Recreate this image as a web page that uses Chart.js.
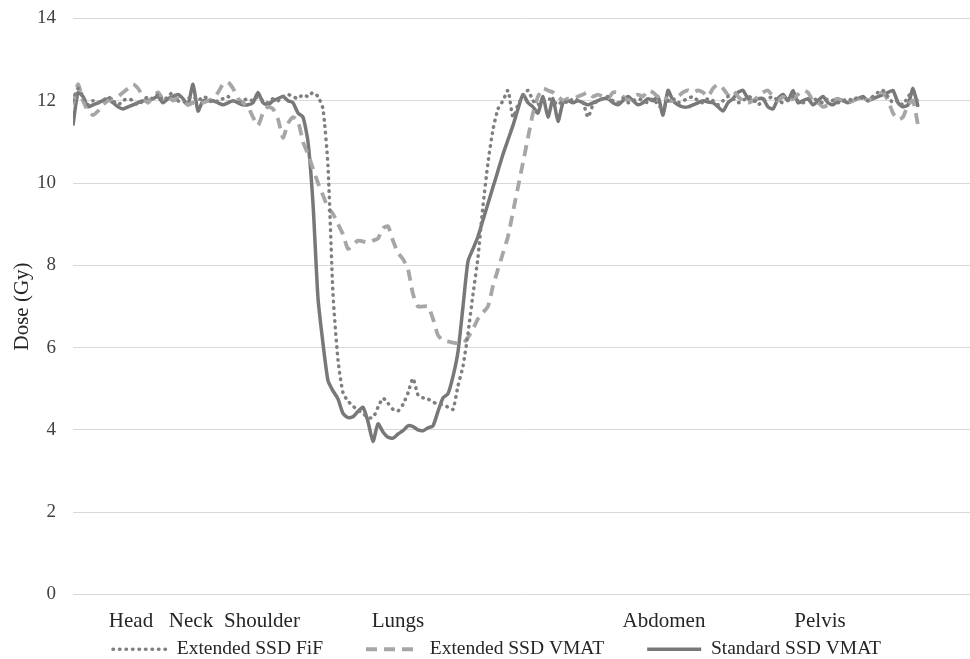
<!DOCTYPE html>
<html>
<head>
<meta charset="utf-8">
<script src="https://cdn.jsdelivr.net/npm/chart.js@4"></script>
<style>
  html, body { margin: 0; padding: 0; background: #ffffff; }
  #wrap { width: 970px; height: 659px; }
</style>
</head>
<body>
<div id="wrap"><canvas id="doseChart" width="970" height="659"></canvas></div>
<script>
// Position along the body (sample index), region names and where they sit
var regionLabels = ['Head', 'Neck', 'Shoulder', 'Lungs', 'Abdomen', 'Pelvis'];
var regionPos = [11.6, 23.6, 37.8, 65, 118.2, 149.4];
var yTicks = [0, 2, 4, 6, 8, 10, 12, 14];

var extFif = [
  12.0, 12.3, 12.1, 11.9, 12.0, 11.95, 12.0, 12.1, 12.0, 11.9,
  12.0, 12.05, 12.0, 11.9, 12.0, 12.1, 12.05, 12.15, 12.0, 12.1,
  12.2, 12.0, 11.95, 12.05, 12.1, 12.0, 12.1, 12.05, 11.95, 12.0,
  12.05, 12.1, 12.0, 11.95, 12.0, 12.05, 12.0, 12.1, 12.0, 11.95,
  12.05, 12.0, 12.1, 12.15, 12.1, 12.05, 12.15, 12.1, 12.2, 12.1,
  11.8, 10.4, 7.3, 5.7, 4.9, 4.7, 4.58, 4.48, 4.4, 4.3,
  4.3, 4.55, 4.77, 4.65, 4.5, 4.46, 4.62, 4.9, 5.25, 4.85,
  4.78, 4.75, 4.68, 4.62, 4.62, 4.55, 4.5, 5.07, 5.55, 6.35,
  7.3, 8.2, 9.45, 10.5, 11.3, 11.8, 12.0, 12.25, 11.6, 11.9,
  12.1, 12.25, 12.0, 11.9, 12.0, 12.05, 12.0, 11.9, 12.0, 11.95,
  12.05, 12.0, 11.95, 11.6, 11.9, 12.0, 12.05, 12.1, 12.0, 11.95,
  12.05, 11.95, 12.0, 12.05, 12.0, 11.95, 12.05, 11.9, 11.8, 12.0,
  12.05, 11.95, 12.0, 12.05, 12.1, 12.0, 11.95, 12.05, 12.0, 11.9,
  12.0, 12.1, 12.05, 11.95, 12.0, 12.1, 12.05, 11.9, 12.0, 12.05,
  12.1, 12.0, 11.95, 12.05, 12.1, 12.0, 11.95, 12.0, 12.05, 12.0,
  11.95, 12.05, 12.0, 11.95, 12.0, 12.05, 12.0, 12.1, 12.05, 12.0,
  12.1, 12.2, 12.25, 12.1, 11.95, 12.0, 11.9, 12.1, 12.2, 11.95
];

var extVmat = [
  11.9, 12.4, 12.0, 11.75, 11.65, 11.75, 11.9, 12.0, 12.05, 12.1,
  12.2, 12.3, 12.4, 12.3, 12.1, 11.95, 12.1, 12.2, 12.05, 12.1,
  12.0, 12.05, 12.0, 11.9, 11.95, 11.9, 11.95, 12.0, 12.05, 12.2,
  12.4, 12.45, 12.3, 12.05, 11.95, 11.85, 11.6, 11.4, 11.7, 11.85,
  11.8, 11.55, 11.1, 11.45, 11.6, 11.5, 11.0, 10.7, 10.35, 10.0,
  9.7, 9.4, 9.25, 9.0, 8.75, 8.4, 8.5, 8.6, 8.58, 8.55,
  8.6, 8.65, 8.9, 8.95, 8.6, 8.3, 8.15, 7.9, 7.3, 7.0,
  7.0, 7.0, 6.7, 6.3, 6.18, 6.15, 6.12, 6.1, 6.1, 6.25,
  6.45, 6.7, 6.85, 7.0, 7.5, 7.9, 8.3, 8.7, 9.3, 9.9,
  10.5, 11.1, 11.7, 12.1, 12.3, 12.25, 12.2, 12.1, 12.0, 12.05,
  12.05, 12.1, 12.15, 12.2, 12.1, 12.15, 12.1, 12.05, 12.2, 12.2,
  12.1, 12.0, 12.1, 12.15, 12.1, 12.25, 12.2, 12.1, 12.15, 12.0,
  12.0, 12.1, 12.2, 12.25, 12.2, 12.25, 12.2, 12.1, 12.3, 12.4,
  12.3, 12.15, 12.25, 12.1, 12.0, 11.95, 12.0, 12.1, 12.2, 12.25,
  12.1, 12.0, 12.1, 12.0, 12.05, 12.15, 12.25, 12.2, 12.0, 11.95,
  11.85, 11.9, 12.0, 12.05, 12.0, 11.95, 12.0, 12.05, 12.1, 12.0,
  12.1, 12.15, 12.2, 12.0, 11.7, 11.55, 11.6, 11.9, 12.0, 11.4
];

var stdVmat = [
  11.4, 12.2, 12.1, 11.85, 11.9, 11.95, 12.0, 12.05, 11.95, 11.85,
  11.8, 11.85, 11.9, 11.95, 12.0, 12.0, 12.05, 12.1, 11.95, 12.05,
  12.1, 12.15, 12.05, 11.9, 12.4, 11.75, 12.0, 12.0, 12.0, 11.95,
  11.9, 11.95, 12.0, 11.95, 11.9, 11.9, 11.95, 12.2, 11.95, 11.9,
  12.0, 12.05, 12.1, 12.0, 11.95, 11.7, 11.6, 11.0, 9.5, 7.2,
  6.1, 5.2, 4.95, 4.75, 4.4, 4.3, 4.32, 4.45, 4.55, 4.2,
  3.72, 4.15, 3.95, 3.82, 3.8, 3.9, 3.98, 4.1, 4.08, 4.0,
  3.98, 4.05, 4.1, 4.45, 4.78, 4.88, 5.3, 5.9, 7.0, 8.1,
  8.4, 8.7, 9.1, 9.5, 9.9, 10.3, 10.7, 11.05, 11.4, 11.8,
  12.15, 11.95, 11.85, 11.7, 12.1, 11.6, 12.05, 11.5, 11.95, 12.0,
  11.95, 12.0, 11.95, 11.9, 11.95, 12.0, 12.05, 12.05, 11.95, 11.9,
  12.0, 12.1, 12.0, 11.9, 11.95, 12.05, 12.0, 12.1, 11.65, 12.25,
  12.0, 11.9, 11.85, 11.85, 11.9, 11.95, 12.0, 11.97, 11.95, 11.85,
  11.75, 11.95, 12.05, 12.2, 12.25, 12.05, 12.0, 12.05, 12.05, 11.85,
  11.8, 12.05, 12.15, 12.0, 12.25, 11.95, 12.0, 12.05, 11.9, 12.0,
  12.1, 11.95, 11.9, 12.0, 12.0, 11.95, 12.0, 12.05, 12.1, 12.0,
  12.05, 12.1, 12.15, 12.2, 12.25, 11.95, 11.85, 11.9, 12.3, 11.85
];

function toPoints(arr) {
  return arr.map(function(v, i) { return { x: i, y: v }; });
}

var serif = "'Liberation Serif', 'DejaVu Serif', serif";
Chart.defaults.font.family = serif;
Chart.defaults.color = '#404040';

// trailing spaces widen the gap between legend entries without adding height
var legendGap = '        ';

var ctx = document.getElementById('doseChart').getContext('2d');
new Chart(ctx, {
  type: 'line',
  data: {
    datasets: [{
      label: 'Extended SSD FiF',
      data: toPoints(extFif),
      borderColor: '#7f7f7f',
      borderWidth: 3.5,
      borderDash: [0.5, 6],
      borderCapStyle: 'round',
      pointRadius: 0,
      tension: 0.2,
      fill: false
    }, {
      label: 'Extended SSD VMAT',
      data: toPoints(extVmat),
      borderColor: '#a6a6a6',
      borderWidth: 3.8,
      borderDash: [11, 7],
      pointRadius: 0,
      tension: 0.2,
      fill: false
    }, {
      label: 'Standard SSD VMAT',
      data: toPoints(stdVmat),
      borderColor: '#787878',
      borderWidth: 3.5,
      pointRadius: 0,
      tension: 0.2,
      fill: false
    }]
  },
  options: {
    responsive: false,
    animation: false,
    // left padding nudges the centred legend right; the y axis is narrowed to match
    layout: { padding: { top: 0, right: 0, left: 24, bottom: -10 } },
    scales: {
      x: {
        type: 'linear',
        min: 0,
        max: 179.4,
        grid: { display: false, drawTicks: false },
        border: { display: false },
        afterBuildTicks: function(axis) {
          axis.ticks = regionPos.map(function(p) { return { value: p }; });
        },
        afterFit: function(axis) { axis.height = 41; },
        ticks: {
          autoSkip: false,
          maxRotation: 0,
          padding: 14,
          color: '#262626',
          font: { size: 21 },
          callback: function(value, index) { return regionLabels[index]; }
        }
      },
      y: {
        min: 0,
        max: 14,
        afterBuildTicks: function(axis) {
          axis.ticks = yTicks.map(function(v) { return { value: v }; });
        },
        afterFit: function(axis) { axis.width = 49; },
        grid: { color: '#d9d9d9', lineWidth: 1, drawTicks: true, tickLength: 10, tickColor: 'rgba(0,0,0,0)' },
        border: { display: false },
        title: {
          display: true,
          text: 'Dose (Gy)',
          color: '#262626',
          font: { size: 21 },
          padding: { top: -14, bottom: 0 }
        },
        ticks: {
          padding: 7,
          color: '#404040',
          font: { size: 19 }
        }
      }
    },
    plugins: {
      legend: {
        position: 'bottom',
        labels: {
          usePointStyle: true,
          pointStyleWidth: 54,
          padding: 4,
          color: '#262626',
          font: { size: 19.5 },
          generateLabels: function(chart) {
            return chart.data.datasets.map(function(ds, i) {
              var last = i === chart.data.datasets.length - 1;
              return {
                text: ds.label + (last ? '' : legendGap),
                strokeStyle: ds.borderColor,
                fillStyle: ds.borderColor,
                lineWidth: ds.borderWidth,
                lineDash: ds.borderDash || [],
                lineCap: ds.borderCapStyle || 'butt',
                pointStyle: 'line',
                datasetIndex: i,
                fontColor: '#262626'
              };
            });
          }
        }
      },
      tooltip: { enabled: false }
    }
  }
});
</script>
</body>
</html>
